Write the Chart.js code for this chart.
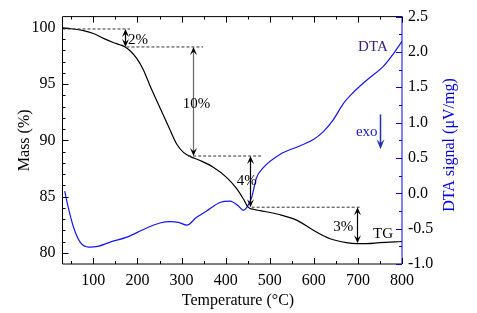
<!DOCTYPE html>
<html><head><meta charset="utf-8">
<script src="https://cdn.jsdelivr.net/npm/chart.js@4/dist/chart.umd.min.js"></script>
<style>html,body{margin:0;padding:0;background:#fff;}canvas{display:block;}</style>
</head><body>
<canvas id="c" width="477" height="313"></canvas>
<script>
// ---- data ----
const tgTemp = [30, 50, 75, 100, 123, 145, 160, 172, 185, 198, 213, 228, 251, 273, 290, 305, 320, 342, 372, 402, 425, 440, 451, 465, 478, 522, 561, 599, 637, 674, 697, 720, 749, 800];
const tgMass = [100.0, 99.92, 99.78, 99.5, 99.06, 98.7, 98.5, 98.3, 97.9, 97.3, 96.3, 94.9, 92.9, 91.0, 89.6, 88.9, 88.55, 88.2, 87.6, 86.7, 85.7, 84.8, 84.05, 83.85, 83.75, 83.4, 82.9, 82.0, 81.25, 80.9, 80.82, 80.82, 80.9, 81.0];
const dtaTemp = [35, 43, 55, 70, 90, 110, 138, 176, 221, 251, 273, 293, 312, 334, 357, 387, 410, 429, 440, 448, 459, 470, 485, 523, 568, 599, 621, 644, 667, 690, 720, 758, 780, 800];
const dtaSignal = [0.03, -0.20, -0.48, -0.69, -0.76, -0.75, -0.69, -0.62, -0.49, -0.42, -0.40, -0.41, -0.45, -0.34, -0.25, -0.13, -0.11, -0.18, -0.24, -0.20, -0.06, 0.22, 0.36, 0.55, 0.67, 0.76, 0.87, 1.04, 1.27, 1.43, 1.60, 1.80, 1.97, 2.15];
const xTicks = [100, 200, 300, 400, 500, 600, 700, 800];
const massTicks = [80, 85, 90, 95, 100];
const dtaTicks = [-1.0, -0.5, 0.0, 0.5, 1.0, 1.5, 2.0, 2.5];
// mass-loss steps: label, temperature of arrow, mass before, mass after
const stepLabels = ['2%', '10%', '4%', '3%'];
const stepTemp = [172, 327, 455, 699];
const stepFrom = [99.9, 98.3, 88.6, 84.05];
const stepTo = [98.3, 88.6, 84.05, 80.85];

// ---- annotation layout (not data) ----
const dashSpans = [[30, 183], [175, 349], [315, 482], [459, 708]];
const labelPos = [[201, 98.94], [334, 93.2], [448, 86.4], [667, 82.3]];
const FONT = '"Liberation Serif", "Times New Roman", serif';

function head(ctx, x, y, dir, len, hw, color) {
  ctx.fillStyle = color;
  ctx.beginPath();
  ctx.moveTo(x, y);
  ctx.lineTo(x - hw, y - dir * len);
  ctx.lineTo(x, y - dir * len * 0.6);
  ctx.lineTo(x + hw, y - dir * len);
  ctx.closePath();
  ctx.fill();
}

const decor = {
  id: 'decor',
  afterDraw(chart) {
    const ctx = chart.ctx, a = chart.chartArea;
    const X = chart.scales.x, Y = chart.scales.y, Y2 = chart.scales.y2;
    ctx.save();
    // frame
    ctx.lineWidth = 1;
    ctx.strokeStyle = '#000';
    ctx.beginPath();
    ctx.moveTo(a.right, a.top); ctx.lineTo(a.left, a.top); ctx.lineTo(a.left, a.bottom); ctx.lineTo(a.right, a.bottom);
    ctx.stroke();
    ctx.strokeStyle = '#0000ee';
    ctx.beginPath(); ctx.moveTo(a.right, a.top); ctx.lineTo(a.right, a.bottom); ctx.stroke();
    // inward ticks
    ctx.strokeStyle = '#000';
    ctx.beginPath();
    for (let v = 50; v <= 800; v += 50) {
      const px = Math.round(X.getPixelForValue(v)) + 0.5;
      const L = v % 100 === 0 ? 6 : 3;
      ctx.moveTo(px, a.bottom); ctx.lineTo(px, a.bottom - L);
      ctx.moveTo(px, a.top); ctx.lineTo(px, a.top + L);
    }
    for (let v = 80; v <= 100; v += 1) {
      const py = Math.round(Y.getPixelForValue(v)) + 0.5;
      const L = v % 5 === 0 ? 6 : 3;
      ctx.moveTo(a.left, py); ctx.lineTo(a.left + L, py);
    }
    ctx.stroke();
    ctx.strokeStyle = '#0000ee';
    ctx.beginPath();
    for (let i = 0; i <= 14; i++) {
      const v = -1 + i * 0.25;
      const py = Math.round(Y2.getPixelForValue(v)) + 0.5;
      const L = i % 2 === 0 ? 6 : 3;
      ctx.moveTo(a.right, py); ctx.lineTo(a.right - L, py);
    }
    ctx.stroke();

    // dashed level lines
    ctx.strokeStyle = '#333';
    ctx.setLineDash([3, 2]);
    ctx.beginPath();
    dashSpans.forEach((s, i) => {
      const py = Y.getPixelForValue(stepFrom[i]);
      ctx.moveTo(X.getPixelForValue(s[0]), py); ctx.lineTo(X.getPixelForValue(s[1]), py);
    });
    ctx.stroke();
    ctx.setLineDash([]);
    // double arrows
    stepTemp.forEach((t, i) => {
      const px = Math.round(X.getPixelForValue(t)) + 0.5;
      const y1 = Y.getPixelForValue(stepFrom[i]);
      const y2 = Y.getPixelForValue(stepTo[i]);
      ctx.strokeStyle = i === 1 ? '#666' : '#000';
      ctx.lineWidth = 1.2;
      ctx.beginPath(); ctx.moveTo(px, y1 + 4); ctx.lineTo(px, y2 - 4); ctx.stroke();
      head(ctx, px, y1, -1, 8, 3.5, '#000');
      head(ctx, px, y2, 1, 8, 3.5, '#000');
    });
    // labels
    ctx.font = '15px ' + FONT;
    ctx.textAlign = 'center';
    ctx.textBaseline = 'middle';
    ctx.fillStyle = '#000';
    stepLabels.forEach((s, i) => {
      ctx.fillText(s, X.getPixelForValue(labelPos[i][0]), Y.getPixelForValue(labelPos[i][1]));
    });
    ctx.fillText('TG', X.getPixelForValue(757), Y.getPixelForValue(81.7));
    ctx.fillStyle = '#3b1f7a';
    ctx.fillText('DTA', X.getPixelForValue(734), Y.getPixelForValue(98.26));
    ctx.fillStyle = '#1a1acc';
    ctx.fillText('exo', X.getPixelForValue(720), Y.getPixelForValue(90.75));
    // exo arrow
    const ex = Math.round(X.getPixelForValue(750)) + 0.5;
    const ey1 = Y.getPixelForValue(92.3), ey2 = Y.getPixelForValue(89.2);
    ctx.strokeStyle = '#2233aa'; ctx.lineWidth = 1.5;
    ctx.beginPath(); ctx.moveTo(ex, ey1); ctx.lineTo(ex, ey2 - 5); ctx.stroke();
    head(ctx, ex, ey2, 1, 10, 4, '#2233aa');

    // axis titles
    ctx.font = '16px ' + FONT;
    ctx.fillStyle = '#000';
    ctx.fillText('Temperature (°C)', 238, 301);
    ctx.save();
    ctx.translate(450, 145);
    ctx.rotate(-Math.PI / 2);
    ctx.fillStyle = '#0000ee';
    ctx.fillText('DTA signal (μV/mg)', 0, 0);
    ctx.restore();
    ctx.restore();
  }
};

const tickFont = { family: FONT, size: 16 };
new Chart(document.getElementById('c'), {
  type: 'line',
  data: {
    datasets: [
      { label: 'TG', data: tgTemp.map((t, i) => ({ x: t, y: tgMass[i] })), yAxisID: 'y',
        borderColor: '#000', borderWidth: 1.2, pointRadius: 0, cubicInterpolationMode: 'monotone', fill: false },
      { label: 'DTA', data: dtaTemp.map((t, i) => ({ x: t, y: dtaSignal[i] })), yAxisID: 'y2',
        borderColor: '#1515ff', borderWidth: 1.2, pointRadius: 0, cubicInterpolationMode: 'monotone', fill: false }
    ]
  },
  options: {
    responsive: false, animation: false, devicePixelRatio: 1,
    layout: { padding: { top: 14.5, left: 0, right: 0, bottom: 0 } },
    plugins: { legend: { display: false }, tooltip: { enabled: false } },
    scales: {
      x: {
        type: 'linear', min: 30, max: 800,
        grid: { display: false, drawTicks: false }, border: { display: false },
        afterBuildTicks: s => { s.ticks = xTicks.map(v => ({ value: v })); },
        afterFit: s => { s.height = 49; },
        ticks: { font: tickFont, color: '#000', padding: 7, maxRotation: 0, autoSkip: false }
      },
      y: {
        position: 'left', min: 79, max: 101,
        grid: { display: false, drawTicks: false }, border: { display: false },
        afterBuildTicks: s => { s.ticks = massTicks.map(v => ({ value: v })); },
        afterFit: s => { s.width = 62.5; },
        ticks: { font: tickFont, color: '#000', padding: 7, autoSkip: false },
        title: { display: true, text: 'Mass (%)', font: { family: FONT, size: 16 }, color: '#000', padding: { top: 15.4, bottom: 0 } }
      },
      y2: {
        position: 'right', min: -1, max: 2.5,
        grid: { display: false, drawTicks: false }, border: { display: false },
        afterBuildTicks: s => { s.ticks = dtaTicks.map(v => ({ value: v })); },
        afterFit: s => { s.width = 75; },
        ticks: { font: tickFont, color: '#000', padding: 6, autoSkip: false, callback: v => Number(v).toFixed(1) }
      }
    }
  },
  plugins: [decor]
});
</script>
</body></html>
